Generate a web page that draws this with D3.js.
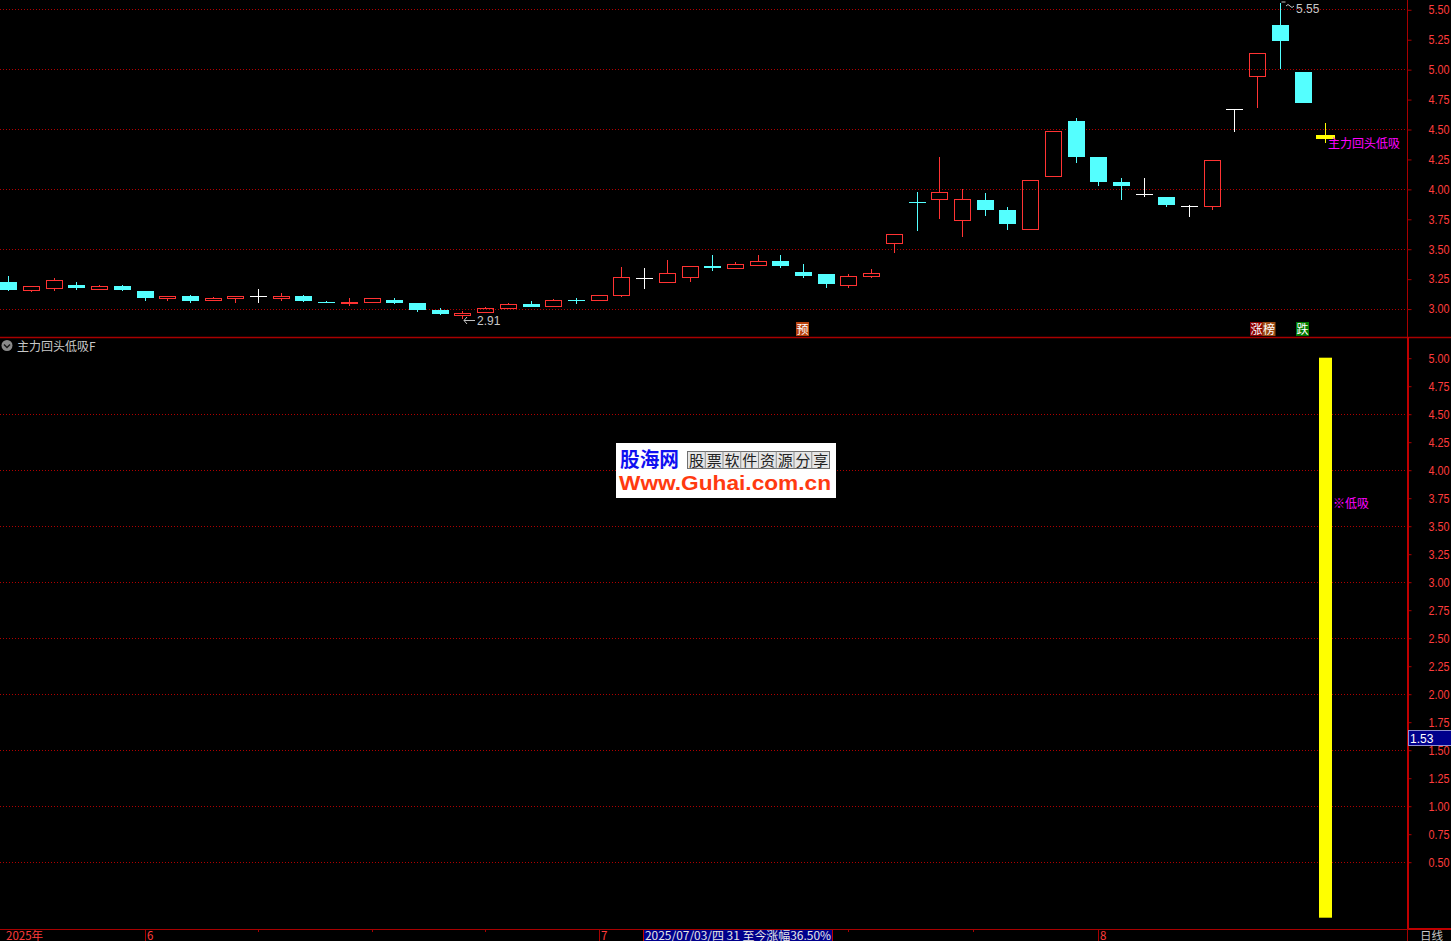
<!DOCTYPE html>
<html><head><meta charset="utf-8">
<script src="https://cdn.jsdelivr.net/npm/d3@7"></script>
<style>html,body{margin:0;padding:0;background:#000;overflow:hidden}svg{display:block}</style>
</head><body><svg id="c" width="1451" height="941"></svg>
<script>
// ---------- data ----------
const opens  = [3.22,3.15,3.166,3.197,3.157,3.188,3.147,3.08,3.105,3.066,3.08,3.105,3.08,3.105,3.055,3.038,3.049,3.071,3.047,2.988,2.94,2.96,2.999,3.038,3.016,3.071,3.066,3.107,3.253,3.216,3.258,3.356,3.333,3.358,3.397,3.305,3.289,3.191,3.266,3.542,3.89,3.909,3.729,3.907,3.823,3.659,4.101,4.567,4.266,4.057,3.954,3.932,3.854,3.846,4.665,4.937,5.369,4.976,4.45];
const highs  = [3.27,3.186,3.255,3.222,3.197,3.197,3.147,3.105,3.113,3.097,3.105,3.163,3.13,3.113,3.063,3.088,3.088,3.088,3.047,3.004,2.98,3.013,3.047,3.063,3.08,3.088,3.111,3.348,3.339,3.406,3.356,3.447,3.389,3.447,3.447,3.372,3.289,3.289,3.33,3.62,3.974,4.266,3.999,3.965,3.846,4.071,4.481,4.592,4.266,4.091,4.091,3.932,3.865,4.239,4.665,5.132,5.55,4.976,4.548];
const lows   = [3.15,3.141,3.149,3.155,3.157,3.147,3.066,3.066,3.047,3.066,3.047,3.047,3.063,3.055,3.047,3.021,3.049,3.038,2.971,2.946,2.91,2.96,2.999,3.016,3.016,3.038,3.066,3.099,3.166,3.216,3.224,3.314,3.333,3.358,3.339,3.258,3.174,3.174,3.258,3.467,3.65,3.751,3.6,3.776,3.659,3.659,4.101,4.218,4.024,3.907,3.934,3.848,3.767,3.823,4.478,4.678,5.001,4.717,4.386];
const closes = [3.155,3.186,3.236,3.172,3.188,3.155,3.088,3.105,3.063,3.088,3.105,3.105,3.105,3.063,3.047,3.055,3.088,3.047,2.988,2.954,2.963,3.004,3.038,3.016,3.071,3.063,3.111,3.264,3.253,3.297,3.356,3.339,3.372,3.397,3.356,3.274,3.205,3.272,3.297,3.62,3.888,3.971,3.913,3.826,3.709,4.071,4.481,4.269,4.057,4.024,3.954,3.865,3.854,4.239,4.665,5.132,5.238,4.717,4.42];
const lowBuy = [0,0,0,0,0,0,0,0,0,0,0,0,0,0,0,0,0,0,0,0,0,0,0,0,0,0,0,0,0,0,0,0,0,0,0,0,0,0,0,0,0,0,0,0,0,0,0,0,0,0,0,0,0,0,0,0,0,0,5];
const topTicks = [5.50,5.25,5.00,4.75,4.50,4.25,4.00,3.75,3.50,3.25,3.00];
const topGrid  = [5.5,5.0,4.5,4.0,3.5,3.0];
const botTicks = [5.00,4.75,4.50,4.25,4.00,3.75,3.50,3.25,3.00,2.75,2.50,2.25,2.00,1.75,1.50,1.25,1.00,0.75,0.50];
const botGrid  = [4.5,4.0,3.5,3.0,2.5,2.0,1.5,1.0,0.5];
const monthIdx = [0,6,26,48];
const monthLab = ["2025年","6","7","8"];
const minorIdx = [11,16,21,37,42.5];
const markIdx  = [35,55,55,57];
const markText = ["预","涨","榜","跌"];
const markFill = ["#b8420e","#8a0000","#9a4a12","#007a00"];
const maxHigh = 5.55, maxIdx = 56, minLow = 2.91, minIdx = 20;
const cursorVal = 1.53;
const infoText = "2025/07/03/四 31 至今涨幅36.50%";

// ---------- setup ----------
const W=1451,H=941;
const svg=d3.select('#c');
svg.append('rect').attr('width',W).attr('height',H).attr('fill','#000');
const n=opens.length;
const x=d3.scaleLinear().domain([0,n-1]).range([8.3,1325.3]);
const yT=d3.scaleLinear().domain([2.75,5.5]).range([338.5,9.3]);
const yB=d3.scaleLinear().domain([0,5]).range([917.7,357.7]);
const AX=1407.5;
const FRAME="#a80000", GRID="#b00000", LBL="#ff3c3c";
const NUMF="'Liberation Sans', Arial, sans-serif";
const CJK="'Noto Sans CJK SC', 'Liberation Sans', sans-serif";
const fmt=d3.format('.2f');

// grids
svg.append('g').selectAll('line').data(topGrid).join('line')
  .attr('x1',0).attr('x2',AX).attr('y1',d=>Math.round(yT(d))+0.5).attr('y2',d=>Math.round(yT(d))+0.5)
  .attr('stroke',GRID).attr('stroke-dasharray','1,2');
svg.append('g').selectAll('line').data(botGrid).join('line')
  .attr('x1',0).attr('x2',AX).attr('y1',d=>Math.round(yB(d))+0.5).attr('y2',d=>Math.round(yB(d))+0.5)
  .attr('stroke',GRID).attr('stroke-dasharray','1,2');

// axes
function styleAxis(g){
  g.select('.domain').remove();
  g.selectAll('.tick line').attr('stroke',FRAME);
  g.selectAll('.tick text').attr('fill',LBL).attr('font-size',12).attr('font-family',NUMF)
    .attr('textLength',21).attr('lengthAdjust','spacingAndGlyphs');
}
svg.append('g').attr('transform',`translate(${AX},0.5)`)
  .call(d3.axisRight(yT).tickValues(topTicks).tickFormat(fmt).tickSize(4).tickPadding(17)).call(styleAxis);
svg.append('g').attr('transform',`translate(${AX},0.5)`)
  .call(d3.axisRight(yB).tickValues(botTicks).tickFormat(fmt).tickSize(4).tickPadding(17)).call(styleAxis);

// frame lines
svg.append('line').attr('x1',AX).attr('x2',AX).attr('y1',0).attr('y2',338).attr('stroke',FRAME);
svg.append('line').attr('x1',0).attr('x2',W).attr('y1',337.5).attr('y2',337.5).attr('stroke',FRAME).attr('stroke-width',1.5);
svg.append('line').attr('x1',AX+0.5).attr('x2',AX+0.5).attr('y1',337).attr('y2',930).attr('stroke','#c00000').attr('stroke-width',2);
svg.append('line').attr('x1',0).attr('x2',AX).attr('y1',929.5).attr('y2',929.5).attr('stroke',FRAME);
svg.append('line').attr('x1',AX).attr('x2',W).attr('y1',929).attr('y2',929).attr('stroke','#c00000').attr('stroke-width',2);
svg.append('line').attr('x1',AX).attr('x2',AX).attr('y1',929).attr('y2',H).attr('stroke',FRAME);

// ---------- candles ----------
const data=d3.range(n).map(i=>({i,o:opens[i],h:highs[i],l:lows[i],c:closes[i]}));
const UP="#ff3333", DN="#54ffff", EQ="#ffffff", LAST="#ffff00";
const cg=svg.append('g');
data.forEach(d=>{
  const cx=Math.round(x(d.i));
  const yo=Math.round(yT(d.o)), yc=Math.round(yT(d.c)), yh=Math.round(yT(d.h)), yl=Math.round(yT(d.l));
  if(d.i===n-1){
    cg.append('line').attr('x1',cx+0.5).attr('x2',cx+0.5).attr('y1',yh).attr('y2',yl).attr('stroke',LAST);
    const t=Math.min(yo,yc), hh=Math.max(4,Math.abs(yo-yc));
    cg.append('rect').attr('x',cx-9).attr('y',t).attr('width',19).attr('height',hh).attr('fill',LAST);
  } else if(d.c>d.o){
    cg.append('line').attr('x1',cx+0.5).attr('x2',cx+0.5).attr('y1',yh).attr('y2',yc).attr('stroke',UP);
    cg.append('line').attr('x1',cx+0.5).attr('x2',cx+0.5).attr('y1',yo).attr('y2',yl).attr('stroke',UP);
    cg.append('rect').attr('x',cx-7.5).attr('y',yc+0.5).attr('width',16).attr('height',Math.max(1,yo-yc-1))
      .attr('fill','none').attr('stroke',UP);
  } else if(d.c<d.o){
    cg.append('line').attr('x1',cx+0.5).attr('x2',cx+0.5).attr('y1',yh).attr('y2',yl).attr('stroke',DN);
    cg.append('rect').attr('x',cx-8).attr('y',yo).attr('width',17).attr('height',Math.max(1,yc-yo)).attr('fill',DN);
  } else {
    cg.append('line').attr('x1',cx+0.5).attr('x2',cx+0.5).attr('y1',yh).attr('y2',yl).attr('stroke',EQ);
    cg.append('line').attr('x1',cx-8).attr('x2',cx+9).attr('y1',yo+0.5).attr('y2',yo+0.5).attr('stroke',EQ);
  }
});

// high / low markers
{
  const cx=Math.round(x(maxIdx))+1, yy=Math.round(yT(maxHigh));
  svg.append('path').attr('d',`M${cx+0.5},${yy-1}h4M${cx+5},${yy+3}q2,-3 4,0t4,0`).attr('stroke','#c0c0c0').attr('fill','none');
  svg.append('text').attr('x',cx+15).attr('y',yy+10).attr('fill','#c8c8c8').attr('font-size',12).attr('font-family',NUMF).text(fmt(maxHigh));
  const lx=Math.round(x(minIdx))+1, ly=Math.round(yT(minLow));
  svg.append('path').attr('d',`M${lx+12},${ly+1.5}H${lx+1}M${lx+4},${ly-2}L${lx+1},${ly+1.5}L${lx+4},${ly+5}`).attr('stroke','#c0c0c0').attr('fill','none');
  svg.append('text').attr('x',lx+14).attr('y',ly+6).attr('fill','#c8c8c8').attr('font-size',12).attr('font-family',NUMF).text(fmt(minLow));
}
// name label next to the last candle
svg.append('text').attr('x',Math.round(x(n-1))+3).attr('y',Math.round(yT(closes[n-1]))+9)
  .attr('fill','#ff00ff').attr('font-size',12).attr('font-family',CJK).text('主力回头低吸');

// bottom marks in top panel
const mk=svg.append('g');
let prev=-1, off=0;
markIdx.forEach((idx,k)=>{
  off = (idx===prev) ? off+12.5 : 0; prev=idx;
  const bx=Math.round(x(idx))-7+off;
  mk.append('rect').attr('x',bx).attr('y',322).attr('width',13).attr('height',14).attr('fill',markFill[k]);
  mk.append('text').attr('x',bx+6.5).attr('y',333.5).attr('text-anchor','middle').attr('fill','#fff')
    .attr('font-size',12).attr('font-family',CJK).text(markText[k]);
});

// ---------- lower panel ----------
svg.append('g').selectAll('rect').data(lowBuy.map((v,i)=>({v,i})).filter(d=>d.v>0)).join('rect')
  .attr('x',d=>Math.round(x(d.i))-6).attr('width',13)
  .attr('y',d=>yB(d.v)).attr('height',d=>yB(0)-yB(d.v)).attr('fill','#ffff00');
svg.append('text').attr('x',Math.round(x(n-1))+8).attr('y',508).attr('fill','#ff00ff')
  .attr('font-size',12).attr('font-family',CJK).text('※低吸');

// title
svg.append('circle').attr('cx',7).attr('cy',345.5).attr('r',5.5).attr('fill','#8a8a8a');
svg.append('path').attr('d','M4,344.5l3,3l3,-3').attr('stroke','#1a1a1a').attr('stroke-width',1.5).attr('fill','none');
svg.append('text').attr('x',17).attr('y',351).attr('fill','#c8c8c8').attr('font-size',12).attr('font-family',CJK).text('主力回头低吸F');

// cursor value box
{
  const yb=Math.round(yB(cursorVal));
  svg.append('rect').attr('x',1408.5).attr('y',yb-15.5).attr('width',44).attr('height',15).attr('fill','#00008c').attr('stroke','#9090d0');
  svg.append('text').attr('x',1410).attr('y',yb-3.5).attr('fill','#ffffff').attr('font-size',12).attr('font-family',NUMF).text(fmt(cursorVal));
}

// ---------- watermark ----------
const wm=svg.append('g');
wm.append('rect').attr('x',616).attr('y',443).attr('width',220).attr('height',55).attr('fill','#ffffff');
wm.append('text').attr('x',620).attr('y',467).attr('fill','#1010f0').attr('font-size',20).attr('font-weight','bold')
  .attr('font-family',CJK).attr('textLength',59).attr('lengthAdjust','spacingAndGlyphs').text('股海网');
const cells="股票软件资源分享".split('');
wm.append('rect').attr('x',687.5).attr('y',451.5).attr('width',142).attr('height',17).attr('fill','#e6e6e6').attr('stroke','#707070');
cells.forEach((ch,k)=>{
  const cxp=687.5+k*17.75;
  if(k>0) wm.append('line').attr('x1',cxp).attr('x2',cxp).attr('y1',451.5).attr('y2',468.5).attr('stroke','#909090');
  wm.append('text').attr('x',cxp+8.9).attr('y',465.5).attr('text-anchor','middle').attr('fill','#222')
    .attr('font-size',15).attr('font-family',CJK).text(ch);
});
wm.append('text').attr('x',619).attr('y',490).attr('fill','#ff3a10').attr('font-size',20).attr('font-weight','bold')
  .attr('font-family',NUMF).attr('textLength',212).attr('lengthAdjust','spacingAndGlyphs').text('Www.Guhai.com.cn');

// ---------- x axis ----------
const xa=svg.append('g');
monthIdx.forEach((idx,k)=>{
  const px=idx===0?4:Math.round(x(idx));
  if(idx>0) xa.append('line').attr('x1',px+0.5).attr('x2',px+0.5).attr('y1',929).attr('y2',H).attr('stroke',FRAME);
  xa.append('text').attr('x',px+2).attr('y',939.5).attr('fill',LBL).attr('font-size',11.5)
    .attr('font-family',CJK).text(monthLab[k]);
});
minorIdx.forEach(idx=>{
  const px=Math.round(x(idx));
  xa.append('line').attr('x1',px+0.5).attr('x2',px+0.5).attr('y1',929).attr('y2',932).attr('stroke',FRAME);
});
{
  const bx=Math.round(x(28))-1;
  xa.append('rect').attr('x',bx).attr('y',930).attr('width',190).attr('height',12).attr('fill','#00008c');
  xa.append('line').attr('x1',bx+0.5).attr('x2',bx+0.5).attr('y1',930).attr('y2',H).attr('stroke','#c00000');
  xa.append('line').attr('x1',bx+189.5).attr('x2',bx+189.5).attr('y1',930).attr('y2',H).attr('stroke','#c00000');
  xa.append('text').attr('x',bx+2).attr('y',939.5).attr('fill','#e8e8e8').attr('font-size',11.5)
    .attr('font-family',CJK).attr('textLength',186).attr('lengthAdjust','spacingAndGlyphs').text(infoText);
}
xa.append('text').attr('x',1420).attr('y',939.5).attr('fill','#c8c8c8').attr('font-size',11.5).attr('font-family',CJK).text('日线');
</script>
</body></html>
